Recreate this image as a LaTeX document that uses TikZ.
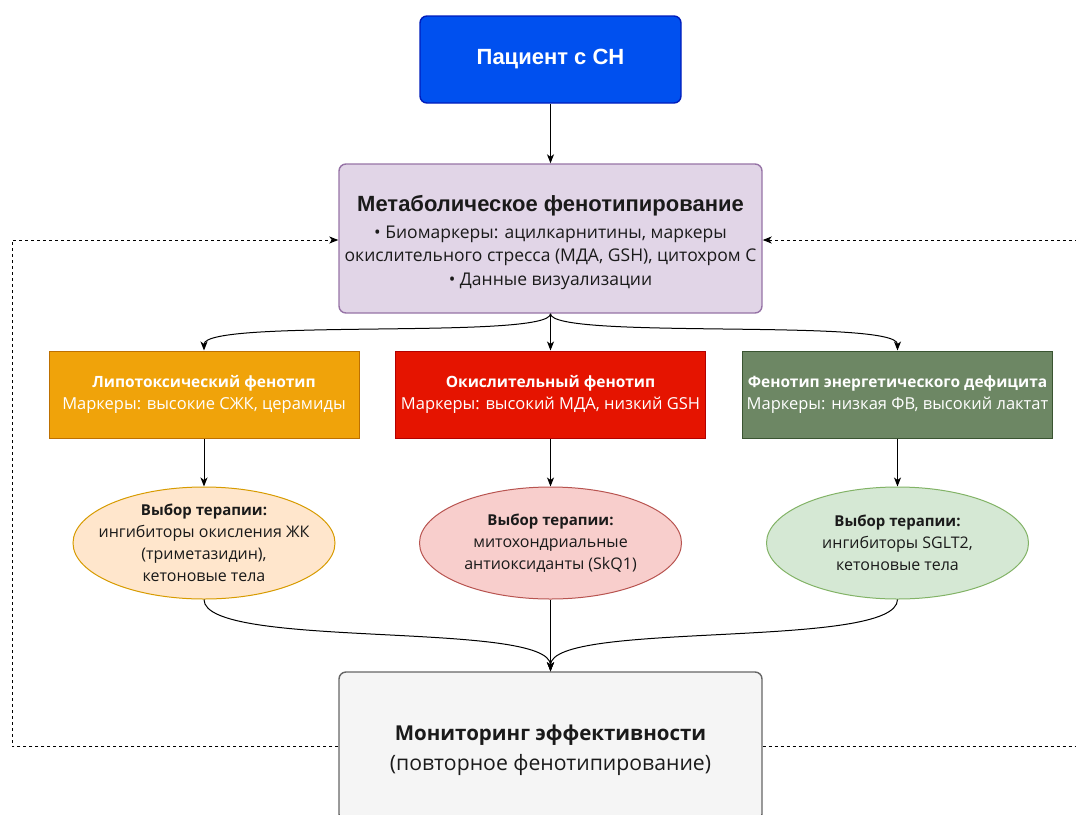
\documentclass[tikz,border=0pt]{standalone}
\usepackage{fontspec}
\setmainfont{Open Sans}
\newfontfamily\arialf{Liberation Sans}
\usetikzlibrary{arrows.meta,shapes.geometric}
\definecolor{pfill}{HTML}{0050EF}\definecolor{pdraw}{HTML}{001DBC}
\definecolor{mfill}{HTML}{E1D5E7}\definecolor{mdraw}{HTML}{9673A6}
\definecolor{ofill}{HTML}{F0A30A}\definecolor{odraw}{HTML}{BD7000}
\definecolor{rfill}{HTML}{E51400}\definecolor{rdraw}{HTML}{B20000}
\definecolor{gfill}{HTML}{6D8764}\definecolor{gdraw}{HTML}{3A5431}
\definecolor{e1fill}{HTML}{FFE6CC}\definecolor{e1draw}{HTML}{D79B00}
\definecolor{e2fill}{HTML}{F8CECC}\definecolor{e2draw}{HTML}{B85450}
\definecolor{e3fill}{HTML}{D5E8D4}\definecolor{e3draw}{HTML}{82B366}
\definecolor{bfill}{HTML}{F5F5F5}\definecolor{bdraw}{HTML}{666666}
\definecolor{txt}{HTML}{1A1A1A}
\newcommand{\rl}{\fontsize{16.5}{22}\selectfont}
\newcommand{\el}{\fontsize{16}{22}\selectfont}
\begin{document}
\begin{tikzpicture}[x=1pt,y=-1pt,
  box/.style={draw, line width=1.4pt, inner sep=0pt, align=center, rounded corners=7pt},
  phbox/.style={draw, line width=1pt, inner sep=0pt, align=center, minimum width=310pt, minimum height=87pt, text=white,
    font=\fontsize{15.5}{22}\selectfont},
  ell/.style={draw, ellipse, line width=1pt, inner sep=0pt, minimum width=262pt, minimum height=112pt},
  etext/.style={inner sep=0pt, align=center, text=txt, font=\fontsize{15}{22}\selectfont},
  lbl/.style={inner sep=0pt, align=center, text=txt},
  arr/.style={-{Stealth[length=9pt,width=7pt,inset=2.5pt]}, line width=1pt},
  dashline/.style={arr, dash pattern=on 3pt off 3pt},
]
\useasboundingbox (0,0) rectangle (1076,814);
\clip (0,0) rectangle (1076,814);
\node[box, fill=pfill, draw=pdraw, minimum width=261pt, minimum height=87pt, text=white,
  font=\arialf\bfseries\fontsize{22}{24}\selectfont] (p) at (550.5,59.5) {Пациент с СН};
\node[box, fill=mfill, draw=mdraw, minimum width=423pt, minimum height=149pt] (m) at (550.5,238.5) {};
\node[lbl, font=\fontsize{17.5}{23.5}\selectfont] (mt) at ([yshift=-4pt]m.center)
  {\textbf{\arialf\fontsize{22}{24}\selectfont Метаболическое фенотипирование}\\[3pt]
   • Биомаркеры: ацилкарнитины, маркеры\\ окислительного стресса (МДА, GSH), цитохром С\\ • Данные визуализации};
\node[phbox, fill=ofill, draw=odraw] (r1) at (204,394.5) {\textbf{Липотоксический фенотип}\\ \rl Маркеры: высокие СЖК, церамиды};
\node[phbox, fill=rfill, draw=rdraw] (r2) at (550.5,394.5) {\textbf{Окислительный фенотип}\\ \rl Маркеры: высокий МДА, низкий GSH};
\node[phbox, fill=gfill, draw=gdraw] (r3) at (897.5,394.5) {\textbf{Фенотип энергетического дефицита}\\ \rl Маркеры: низкая ФВ, высокий лактат};
\node[ell, fill=e1fill, draw=e1draw] (e1) at (204,543) {};
\node[ell, fill=e2fill, draw=e2draw] (e2) at (550.5,543) {};
\node[ell, fill=e3fill, draw=e3draw] (e3) at (897.5,543) {};
\node[etext] (e1t) at (e1.center) {\textbf{Выбор терапии:}\\ \el ингибиторы окисления ЖК\\ \el (триметазидин),\\ \el кетоновые тела};
\node[etext] (e2t) at (e2.center) {\textbf{Выбор терапии:}\\ \el митохондриальные\\ \el антиоксиданты (SkQ1)};
\node[etext] (e3t) at (e3.center) {\textbf{Выбор терапии:}\\ \el ингибиторы SGLT2,\\ \el кетоновые тела};
\node[box, fill=bfill, draw=bdraw, minimum width=423pt, minimum height=149pt] (b) at (550.5,746.5) {};
\node[lbl, font=\fontsize{20.5}{30}\selectfont] (bt) at ([yshift=-4pt]b.center)
  {\textbf{Мониторинг эффективности}\\ \fontsize{21.2}{30}\selectfont (повторное фенотипирование)};
\coordinate (lc) at (12,746.5);
\coordinate (rc) at (1090,746.5);
\draw[arr] (p) -- (m);
\draw[arr] (m.south) .. controls (550.5,340) and (204,318) .. (r1.north);
\draw[arr] (m) -- (r2);
\draw[arr] (m.south) .. controls (550.5,340) and (897.5,318) .. (r3.north);
\draw[arr] (r1) -- (e1);
\draw[arr] (r2) -- (e2);
\draw[arr] (r3) -- (e3);
\draw[arr] (e1.south) .. controls (204,650) and (550.5,620) .. (b.north);
\draw[arr] (e2) -- (b);
\draw[arr] (e3.south) .. controls (897.5,650) and (550.5,620) .. (b.north);
\draw[dashline] (b.west) -- (lc) |- ([yshift=-1.5pt]m.west);
\draw[dashline] (b.east) -- (rc) |- ([yshift=-1.5pt]m.east);
\end{tikzpicture}
\end{document}
